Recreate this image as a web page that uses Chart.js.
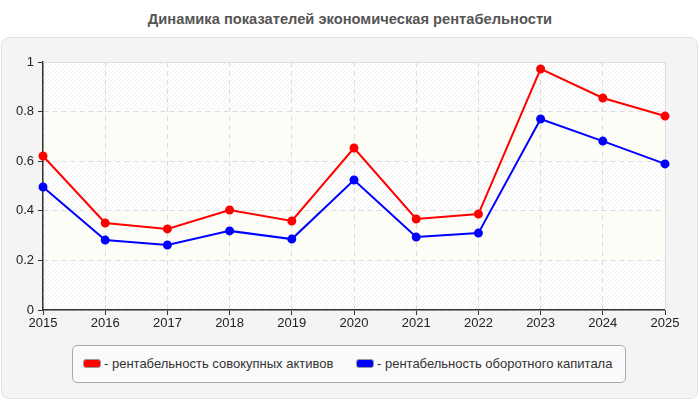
<!DOCTYPE html>
<html>
<head>
<meta charset="utf-8">
<script src="https://cdn.jsdelivr.net/npm/chart.js@4/dist/chart.umd.min.js"></script>
<style>
  html, body { margin: 0; padding: 0; background: #ffffff; }
  #wrap { position: relative; width: 700px; height: 400px; font-family: "Liberation Sans", Arial, sans-serif; }
  #title { position: absolute; left: 0; top: 11px; width: 700px; text-align: center; font-weight: bold; font-size: 14.7px; color: #555555; }
  #panel { position: absolute; left: 1px; top: 37px; width: 695px; height: 360px; background: #f4f4f4; border: 1px solid #e2e2e2; border-radius: 8px; }
  #chart { position: absolute; left: 0; top: 0; }
  #legend { position: absolute; left: 72px; top: 345px; width: 552px; height: 36px; background: #fafafa; border: 1px solid #a8a8a8; border-radius: 5px; }
  .item { position: absolute; top: 10px; font-size: 13px; color: #333; white-space: nowrap; line-height: 15px; }
  .sw { display: inline-block; width: 16px; height: 7px; border: 1px solid #999; border-radius: 3px; vertical-align: 0px; margin-right: 3px; }
</style>
</head>
<body>
<div id="wrap">
  <div id="panel"></div>
  <div id="title">Динамика показателей экономическая рентабельности</div>
  <canvas id="chart" width="700" height="400"></canvas>
  <div id="legend"></div>
</div>
<script>
const years = ["2015","2016","2017","2018","2019","2020","2021","2022","2023","2024","2025"];
const totalAssetsReturn = [0.621, 0.351, 0.327, 0.403, 0.359, 0.653, 0.367, 0.387, 0.972, 0.855, 0.782];
const workingCapitalReturn = [0.496, 0.282, 0.262, 0.319, 0.286, 0.524, 0.294, 0.310, 0.770, 0.681, 0.589];
const seriesLabels = ["- рентабельность совокупных активов", "- рентабельность оборотного капитала"];
const seriesColors = ["#ff0000", "#0000ff"];
const yTicks = [0, 0.2, 0.4, 0.6, 0.8, 1];

function makeHatch() {
  const c = document.createElement('canvas');
  c.width = 4; c.height = 4;
  const g = c.getContext('2d');
  g.fillStyle = '#ffffff';
  g.fillRect(0, 0, 4, 4);
  g.strokeStyle = '#f0f0f0';
  g.lineWidth = 1;
  g.beginPath();
  g.moveTo(0, 4); g.lineTo(4, 0);
  g.moveTo(-1, 1); g.lineTo(1, -1);
  g.moveTo(3, 5); g.lineTo(5, 3);
  g.stroke();
  return c;
}

const bgPlugin = {
  id: 'bands',
  beforeDraw(chart) {
    const { ctx, chartArea: a, scales } = chart;
    const y = scales.y;
    const pat = ctx.createPattern(makeHatch(), 'repeat');
    ctx.save();
    for (let i = 0; i < yTicks.length - 1; i++) {
      const top = y.getPixelForValue(yTicks[i + 1]);
      const bot = y.getPixelForValue(yTicks[i]);
      ctx.fillStyle = (i % 2 === 0) ? pat : '#fdfdf7';
      ctx.fillRect(a.left, top, a.right - a.left, bot - top);
    }
    ctx.restore();
  },
  beforeDatasetsDraw(chart) {
    const { ctx, chartArea: a } = chart;
    ctx.save();
    ctx.strokeStyle = '#dddddd';
    ctx.lineWidth = 1;
    ctx.beginPath();
    ctx.moveTo(a.left, a.top + 0.5);
    ctx.lineTo(a.right + 0.5, a.top + 0.5);
    ctx.lineTo(a.right + 0.5, a.bottom);
    ctx.stroke();
    ctx.restore();
  }
};

const chart = new Chart(document.getElementById('chart'), {
  type: 'line',
  data: {
    labels: years,
    datasets: [
      { label: seriesLabels[0], data: totalAssetsReturn, borderColor: seriesColors[0], backgroundColor: seriesColors[0], borderWidth: 2, pointRadius: 3.5, pointHoverRadius: 3.5, tension: 0, fill: false },
      { label: seriesLabels[1], data: workingCapitalReturn, borderColor: seriesColors[1], backgroundColor: seriesColors[1], borderWidth: 2, pointRadius: 3.5, pointHoverRadius: 3.5, tension: 0, fill: false }
    ]
  },
  options: {
    responsive: false,
    animation: false,
    devicePixelRatio: 1,
    layout: { padding: { left: 0, right: 35, top: 62, bottom: 60 } },
    plugins: { legend: { display: false }, title: { display: false }, tooltip: { enabled: false } },
    scales: {
      x: {
        offset: false,
        afterFit(s) { s.height = 30; },
        grid: { color: '#dcdcdc', tickColor: '#333333', tickLength: 5, drawOnChartArea: true },
        border: { color: '#333333', width: 1.5, dash: [5, 4] },
        ticks: { color: '#222222', font: { family: 'Liberation Sans', size: 13 }, padding: 1, maxRotation: 0, autoSkip: false }
      },
      y: {
        min: 0, max: 1,
        afterFit(s) { s.width = 43; },
        afterBuildTicks(s) { s.ticks = yTicks.map(v => ({ value: v })); },
        grid: { color: '#dcdcdc', tickColor: '#333333', tickLength: 5 },
        border: { color: '#333333', width: 1.5, dash: [5, 4] },
        ticks: { color: '#222222', font: { family: 'Liberation Sans', size: 13 }, padding: 4, callback: v => String(v) }
      }
    }
  },
  plugins: [bgPlugin]
});

// HTML legend built from the chart's datasets
const leg = document.getElementById('legend');
const lefts = [10, 283];
chart.data.datasets.forEach((ds, i) => {
  const d = document.createElement('div');
  d.className = 'item';
  d.style.left = lefts[i] + 'px';
  const sw = document.createElement('span');
  sw.className = 'sw';
  sw.style.background = ds.borderColor;
  d.appendChild(sw);
  d.appendChild(document.createTextNode(ds.label));
  leg.appendChild(d);
});
</script>
</body>
</html>
